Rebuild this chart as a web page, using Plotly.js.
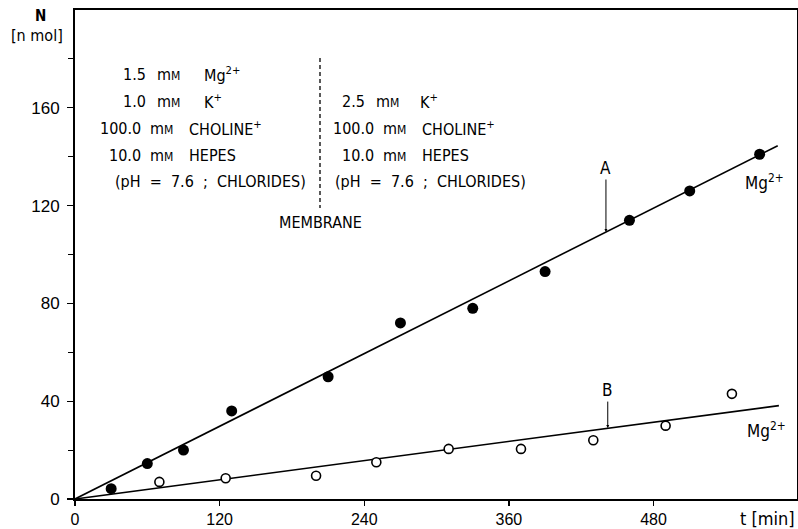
<!DOCTYPE html>
<html><head><meta charset="utf-8">
<script src="https://cdn.plot.ly/plotly-3.0.1.min.js"></script>
<style>html,body{margin:0;padding:0;background:#fff}</style>
</head><body><div id="chart" style="width:798px;height:529px"></div>
<script>
// ---- data ----
const tA = [30, 60, 90, 130, 210, 270, 330, 390, 460, 510, 568];
const nA = [4.2, 14.5, 20, 36, 50, 72, 78, 93, 114, 126, 141];
const tB = [70, 125, 200, 250, 310, 370, 430, 490, 545];
const nB = [7, 8.5, 9.5, 15, 20.5, 20.5, 24, 30, 43];
const fitAt = [0, 583], fitAn = [0, 144.5];
const fitBt = [0, 584], fitBn = [0, 38.2];
const xTicks = [0, 120, 240, 360, 480];
const yTicks = [0, 40, 80, 120, 160];
const leftNums = ['1.5', '1.0', '100.0', '10.0'];
const leftIons = ['Mg<sup>2+</sup>', 'K<sup>+</sup>', 'CHOLINE<sup>+</sup>', 'HEPES'];
const rightNums = ['2.5', '100.0', '10.0'];
const rightIons = ['K<sup>+</sup>', 'CHOLINE<sup>+</sup>', 'HEPES'];
const bufferNote = '(pH = 7.6 ; CHLORIDES)';
const unitText = 'm<span style="font-size:12px">M</span>';

// ---- layout helpers (pixel -> paper) ----
const ML = 75, MR = 1, MT = 10, MB = 30, W = 798, H = 529;
const PW = W - ML - MR, PH = H - MT - MB;
const px = x => (x - ML) / PW;
const py = y => (H - MB - y) / PH;
const FONT = '"DejaVu Sans Condensed", "DejaVu Sans", sans-serif';
const TICKFONT = '"Liberation Sans", Arial, sans-serif';
const wide = s => s.replace(/ /g, '\u00a0\u00a0');

const ann = [];
function txt(x, y, text, anchor, size, fam) {
  ann.push({xref: 'paper', yref: 'paper', x: px(x), y: py(y), text: text,
    showarrow: false, xanchor: anchor, yanchor: 'middle',
    font: {family: fam || FONT, size: size || 16, color: '#000'}});
}
// left block
const lRowY = [74, 102, 128, 155], lNumR = [148, 148, 143, 143], lUnitL = [155, 155, 148, 148], lIonL = [202, 202, 187, 187];
leftNums.forEach((n, i) => {
  txt(lNumR[i], lRowY[i], n, 'right');
  txt(lUnitL[i], lRowY[i], unitText, 'left');
  txt(lIonL[i], lRowY[i], leftIons[i], 'left');
});
txt(113, 181, wide(bufferNote), 'left', 16);
// right block
const rRowY = [102, 128, 155], rNumR = [367, 376, 376], rUnitL = [374, 381, 381], rIonL = [418, 420, 420];
rightNums.forEach((n, i) => {
  txt(rNumR[i], rRowY[i], n, 'right');
  txt(rUnitL[i], rRowY[i], unitText, 'left');
  txt(rIonL[i], rRowY[i], rightIons[i], 'left');
});
txt(333, 181, wide(bufferNote), 'left', 16);
txt(320, 222, 'MEMBRANE', 'center');
// axis titles
txt(40, 16, '<b>N</b>', 'center', 15);
txt(37, 36, '[n mol]', 'center', 16);
txt(797, 518, 't [min]', 'right', 18);
// curve labels
txt(743, 182, 'Mg<sup>2+</sup>', 'left', 17);
txt(745, 430, 'Mg<sup>2+</sup>', 'left', 17);
// arrow labels
ann.push({x: 440.5, y: 109.2, xref: 'x', yref: 'y', text: 'A', showarrow: true,
  ax: 0, ay: -64, arrowhead: 2, arrowsize: 0.6, arrowwidth: 1, arrowcolor: '#000',
  font: {family: FONT, size: 17, color: '#000'}});
ann.push({x: 442, y: 29, xref: 'x', yref: 'y', text: 'B', showarrow: true,
  ax: 0, ay: -38, arrowhead: 2, arrowsize: 0.6, arrowwidth: 1, arrowcolor: '#000',
  font: {family: FONT, size: 17, color: '#000'}});

const traces = [
  {x: fitAt, y: fitAn, mode: 'lines', line: {color: '#000', width: 1.6}, hoverinfo: 'skip'},
  {x: fitBt, y: fitBn, mode: 'lines', line: {color: '#000', width: 1.6}, hoverinfo: 'skip'},
  {x: tA, y: nA, mode: 'markers', marker: {color: '#000', size: 11, line: {width: 0}}},
  {x: tB, y: nB, mode: 'markers', marker: {color: '#fff', size: 9, line: {color: '#000', width: 1.6}}}
];

const layout = {
  width: W, height: H, showlegend: false,
  margin: {l: ML, r: MR, t: MT, b: MB, pad: 0},
  paper_bgcolor: '#fff', plot_bgcolor: '#fff',
  font: {family: FONT, size: 16, color: '#000'},
  xaxis: {range: [0, 599], tickvals: xTicks, ticktext: xTicks.map(String),
    showgrid: false, zeroline: false, showline: true, linecolor: '#000', linewidth: 2,
    mirror: true, ticks: 'outside', ticklen: 5, tickwidth: 1.2, tickcolor: '#000',
    tickfont: {family: TICKFONT, size: 16, color: '#000'}},
  yaxis: {range: [0, 200], tickvals: yTicks, ticktext: yTicks.map(String),
    showgrid: false, zeroline: false, showline: true, linecolor: '#000', linewidth: 2,
    mirror: true, ticks: 'outside', ticklen: 6, tickwidth: 1.2, tickcolor: '#000',
    ticklabelstandoff: 4,
    minor: {tickvals: [20, 60, 100, 140, 180], ticks: 'outside', ticklen: 5, tickwidth: 1, tickcolor: '#000'},
    tickfont: {family: TICKFONT, size: 17, color: '#000'}},
  annotations: ann,
  shapes: [{type: 'line', xref: 'paper', yref: 'paper', x0: px(320), x1: px(320), y0: py(58), y1: py(208),
    line: {color: '#000', width: 1.3, dash: '4px,3px'}}]
};
Plotly.newPlot('chart', traces, layout, {staticPlot: true, displayModeBar: false});
</script></body></html>
